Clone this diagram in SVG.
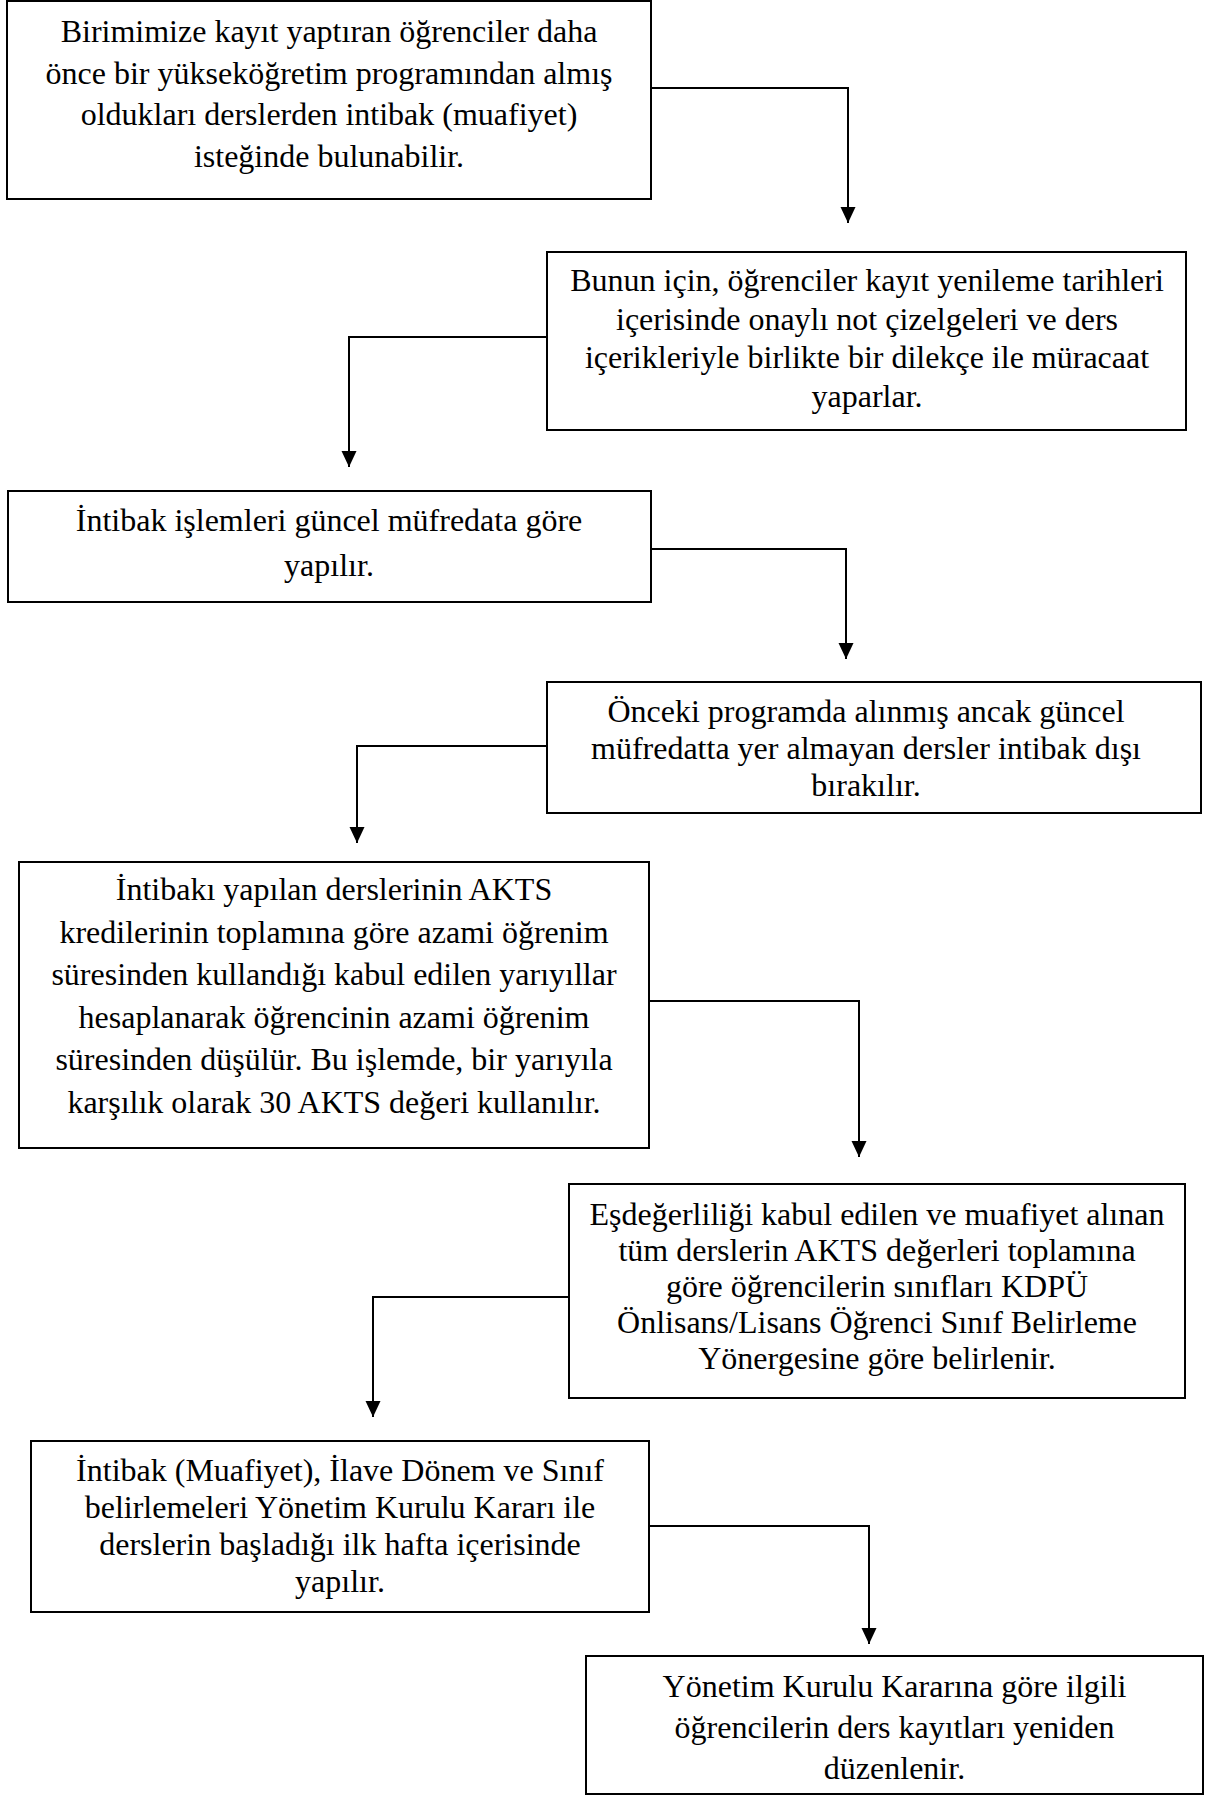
<svg xmlns="http://www.w3.org/2000/svg" width="1208" height="1796" viewBox="0 0 1208 1796">
<defs>
<style>
.box{fill:#fff;stroke:#000;stroke-width:2}
.t{font-family:"Liberation Serif","Times New Roman",serif;font-size:32px;fill:#000;text-anchor:middle}
.c{fill:none;stroke:#000;stroke-width:2}
</style>
<marker id="ah" markerWidth="16" markerHeight="16" refX="16" refY="8" orient="auto" markerUnits="userSpaceOnUse">
<path d="M0,0.5 L16,8 L0,15.5 Z" fill="#000"/>
</marker>
</defs>
<rect width="1208" height="1796" fill="#fff"/>
<g id="connectors">
<path class="c" d="M650,88 H848 V223" marker-end="url(#ah)"/>
<path class="c" d="M547,337 H349 V467" marker-end="url(#ah)"/>
<path class="c" d="M650,549 H846 V659" marker-end="url(#ah)"/>
<path class="c" d="M547,746 H357 V843" marker-end="url(#ah)"/>
<path class="c" d="M649,1001 H859 V1157" marker-end="url(#ah)"/>
<path class="c" d="M569,1297 H373 V1417" marker-end="url(#ah)"/>
<path class="c" d="M649,1526 H869 V1644" marker-end="url(#ah)"/>
</g>
<g id="n1">
<rect class="box" x="7" y="1" width="644" height="198"/>
<text class="t" x="329" y="42">Birimimize kayıt yaptıran öğrenciler daha</text>
<text class="t" x="329" y="84">önce bir yükseköğretim programından almış</text>
<text class="t" x="329" y="125">oldukları derslerden intibak (muafiyet)</text>
<text class="t" x="329" y="167">isteğinde bulunabilir.</text>
</g>
<g id="n2">
<rect class="box" x="547" y="252" width="639" height="178"/>
<text class="t" x="867" y="291">Bunun için, öğrenciler kayıt yenileme tarihleri</text>
<text class="t" x="867" y="329.5">içerisinde onaylı not çizelgeleri ve ders</text>
<text class="t" x="867" y="368">içerikleriyle birlikte bir dilekçe ile müracaat</text>
<text class="t" x="867" y="406.5">yaparlar.</text>
</g>
<g id="n3">
<rect class="box" x="8" y="491" width="643" height="111"/>
<text class="t" x="329" y="531">İntibak işlemleri güncel müfredata göre</text>
<text class="t" x="329" y="576">yapılır.</text>
</g>
<g id="n4">
<rect class="box" x="547" y="682" width="654" height="131"/>
<text class="t" x="866" y="722">Önceki programda alınmış ancak güncel</text>
<text class="t" x="866" y="759">müfredatta yer almayan dersler intibak dışı</text>
<text class="t" x="866" y="796">bırakılır.</text>
</g>
<g id="n5">
<rect class="box" x="19" y="862" width="630" height="286"/>
<text class="t" x="334" y="900">İntibakı yapılan derslerinin AKTS</text>
<text class="t" x="334" y="942.5">kredilerinin toplamına göre azami öğrenim</text>
<text class="t" x="334" y="985">süresinden kullandığı kabul edilen yarıyıllar</text>
<text class="t" x="334" y="1027.5">hesaplanarak öğrencinin azami öğrenim</text>
<text class="t" x="334" y="1070">süresinden düşülür. Bu işlemde, bir yarıyıla</text>
<text class="t" x="334" y="1112.5">karşılık olarak 30 AKTS değeri kullanılır.</text>
</g>
<g id="n6">
<rect class="box" x="569" y="1184" width="616" height="214"/>
<text class="t" x="877" y="1225">Eşdeğerliliği kabul edilen ve muafiyet alınan</text>
<text class="t" x="877" y="1261">tüm derslerin AKTS değerleri toplamına</text>
<text class="t" x="877" y="1297">göre öğrencilerin sınıfları KDPÜ</text>
<text class="t" x="877" y="1333">Önlisans/Lisans Öğrenci Sınıf Belirleme</text>
<text class="t" x="877" y="1369">Yönergesine göre belirlenir.</text>
</g>
<g id="n7">
<rect class="box" x="31" y="1441" width="618" height="171"/>
<text class="t" x="340" y="1481">İntibak (Muafiyet), İlave Dönem ve Sınıf</text>
<text class="t" x="340" y="1518">belirlemeleri Yönetim Kurulu Kararı ile</text>
<text class="t" x="340" y="1555">derslerin başladığı ilk hafta içerisinde</text>
<text class="t" x="340" y="1592">yapılır.</text>
</g>
<g id="n8">
<rect class="box" x="586" y="1656" width="617" height="138"/>
<text class="t" x="894.5" y="1697">Yönetim Kurulu Kararına göre ilgili</text>
<text class="t" x="894.5" y="1738">öğrencilerin ders kayıtları yeniden</text>
<text class="t" x="894.5" y="1779">düzenlenir.</text>
</g>
</svg>
